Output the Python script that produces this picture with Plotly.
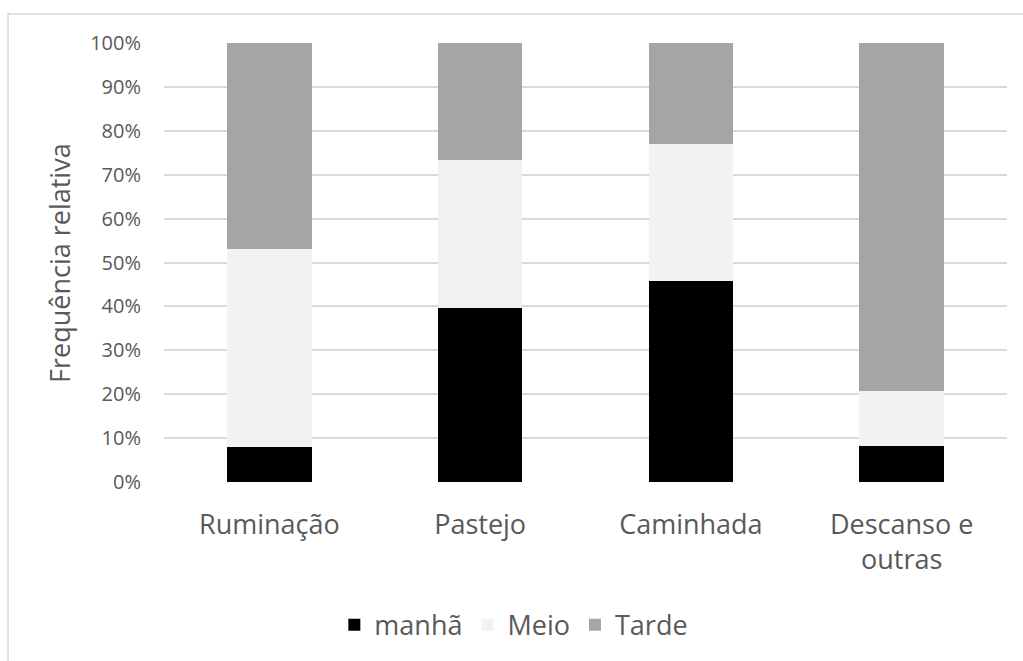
import plotly.graph_objects as go

# Relative frequency of each behaviour by period of the day
categories = ["Ruminação", "Pastejo", "Caminhada", "Descanso e<br>outras"]
manha = [0.080, 0.397, 0.458, 0.083]
meio = [0.450, 0.337, 0.312, 0.124]
tarde = [0.470, 0.266, 0.230, 0.793]

series = [
    ("manhã", manha, "#000000"),
    ("Meio", meio, "#F2F2F2"),
    ("Tarde", tarde, "#A5A5A5"),
]

fig = go.Figure()
for name, vals, color in series:
    fig.add_trace(go.Bar(
        name=name, x=categories, y=vals,
        marker=dict(color=color, line=dict(color=color, width=0)),
    ))

text_color = "#595959"
font_family = "Open Sans, Noto Sans, sans-serif"

fig.update_layout(
    width=1023, height=661,
    barmode="stack", bargap=0.6,
    paper_bgcolor="white", plot_bgcolor="white",
    margin=dict(l=164, r=16, t=43, b=179),
    font=dict(family=font_family, color=text_color),
    xaxis=dict(
        showgrid=False, showline=False, ticks="",
        tickfont=dict(size=27, color=text_color),
        ticklabelstandoff=24,
    ),
    yaxis=dict(
        range=[0, 1], tickvals=[i / 10 for i in range(11)],
        tickformat=".0%", showgrid=True, gridcolor="#D9D9D9", gridwidth=1.5,
        zeroline=False, showline=False, ticks="",
        tickfont=dict(size=20, color=text_color),
        ticklabelstandoff=22,
    ),
    legend=dict(
        orientation="h", x=0.415, xanchor="center", y=-0.326, yanchor="middle",
        font=dict(size=27, color=text_color), traceorder="normal",
        itemwidth=30,
    ),
    showlegend=True,
)

# Y axis title
fig.add_annotation(
    text="Frequência relativa", xref="paper", yref="paper",
    x=-0.124, y=0.5, textangle=-90, showarrow=False,
    font=dict(size=27, color=text_color), xanchor="center", yanchor="middle",
)

# Chart frame
fig.add_shape(
    type="rect", xref="paper", yref="paper",
    x0=-0.185, y0=-0.6, x1=1.2, y1=1.066,
    line=dict(color="#D9D9D9", width=1.5), fillcolor="rgba(0,0,0,0)",
    layer="below",
)

fig.write_html("out.html")
